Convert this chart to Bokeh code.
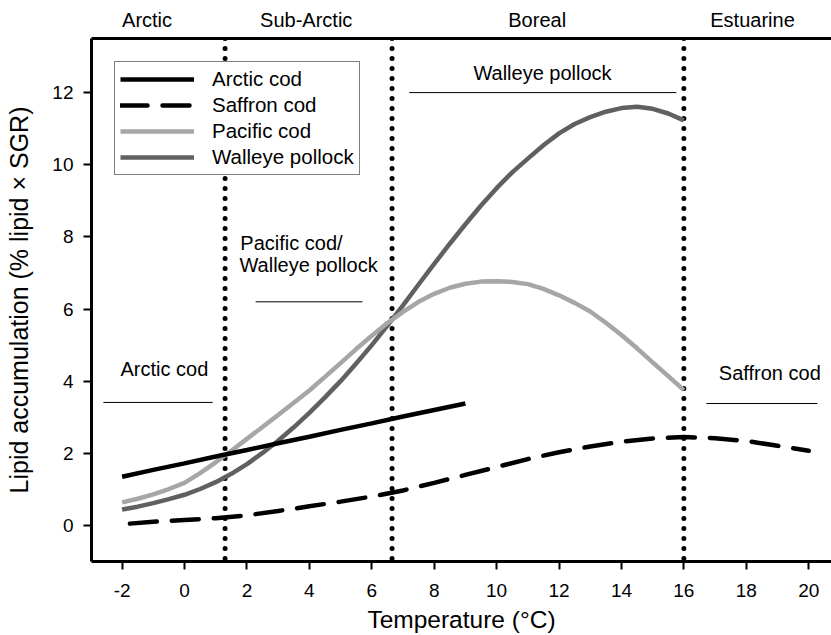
from bokeh.plotting import figure
from bokeh.models import Range1d, LinearAxis, FixedTicker, Legend, LegendItem
from bokeh.embed import file_html
from bokeh.resources import INLINE
from bokeh.core.properties import value

FONT = "Liberation Sans"

# ---------------- data ----------------
x_ticks = [-2, 0, 2, 4, 6, 8, 10, 12, 14, 16, 18, 20]
x_tick_labels = ["-2", "0", "2", "4", "6", "8", "10", "12", "14", "16", "18", "20"]
y_ticks = [0, 2, 4, 6, 8, 10, 12]
y_tick_labels = ["0", "2", "4", "6", "8", "10", "12"]

temp_arctic = [-2, -1, 0, 1, 2, 3, 4, 5, 6, 7, 8, 9]
lipid_arctic = [1.35, 1.54, 1.72, 1.91, 2.09, 2.28, 2.46, 2.65, 2.83, 3.02, 3.20, 3.38]

temp_saffron = [-1.75, -1, 0, 1, 2, 3, 4, 5, 6, 7, 8, 9, 10, 11, 12, 13, 14, 15, 16, 17, 18, 19, 20]
lipid_saffron = [0.05, 0.10, 0.15, 0.20, 0.28, 0.40, 0.53, 0.66, 0.80, 0.97, 1.18, 1.40,
                 1.62, 1.84, 2.03, 2.19, 2.32, 2.41, 2.45, 2.42, 2.34, 2.21, 2.07]

temp_pacific = [-2, -1.5, -1, -0.5, 0, 0.5, 1, 1.5, 2, 2.5, 3, 3.5, 4, 4.5, 5, 5.5, 6, 6.5,
                7, 7.5, 8, 8.5, 9, 9.5, 10, 10.5, 11, 11.5, 12, 12.5, 13, 13.5, 14, 14.5,
                15, 15.5, 16]
lipid_pacific = [0.64, 0.74, 0.86, 1.01, 1.18, 1.45, 1.75, 2.07, 2.40, 2.73, 3.06, 3.40,
                 3.74, 4.12, 4.50, 4.89, 5.26, 5.61, 5.92, 6.20, 6.42, 6.59, 6.70, 6.76,
                 6.77, 6.75, 6.69, 6.56, 6.38, 6.17, 5.93, 5.62, 5.28, 4.91, 4.52, 4.14, 3.75]

temp_walleye = [-2, -1.5, -1, -0.5, 0, 0.5, 1, 1.5, 2, 2.5, 3, 3.5, 4, 4.5, 5, 5.5, 6, 6.5,
                7, 7.5, 8, 8.5, 9, 9.5, 10, 10.5, 11, 11.5, 12, 12.5, 13, 13.5, 14, 14.5,
                15, 15.5, 16]
lipid_walleye = [0.44, 0.52, 0.62, 0.73, 0.85, 1.01, 1.20, 1.43, 1.70, 2.01, 2.35, 2.72,
                 3.12, 3.55, 4.00, 4.49, 5.00, 5.54, 6.10, 6.68, 7.25, 7.81, 8.35, 8.87,
                 9.35, 9.79, 10.17, 10.54, 10.87, 11.13, 11.32, 11.47, 11.57, 11.61,
                 11.55, 11.42, 11.23]

series_names = ["Arctic cod", "Saffron cod", "Pacific cod", "Walleye pollock"]

zone_bounds = [1.3, 6.65, 16]
zone_names = ["Arctic", "Sub-Arctic", "Boreal", "Estuarine"]
zone_label_x = [-1.2, 3.9, 11.3, 18.2]

# optimal-range annotations (label, bar)
ann_center_text = ["Walleye pollock"]
ann_center_x = [11.47]
ann_center_y = [12.54]
ann_left_text = ["Pacific cod/", "Walleye pollock", "Arctic cod", "Saffron cod"]
ann_left_x = [1.79, 1.76, -2.05, 17.12]
ann_left_y = [7.83, 7.22, 4.33, 4.22]
ann_bar_x0 = [7.2, 2.28, -2.6, 16.72]
ann_bar_x1 = [15.76, 5.7, 0.9, 20.28]
ann_bar_y = [12.0, 6.2, 3.41, 3.38]

# ---------------- figure ----------------
p = figure(width=831, height=635, output_backend="svg", toolbar_location=None,
           x_range=Range1d(-2.98, 20.73), y_range=Range1d(-1, 13.5),
           min_border_left=91, min_border_right=0, min_border_top=38, min_border_bottom=73)
p.outline_line_color = None
p.xgrid.grid_line_color = None
p.ygrid.grid_line_color = None
p.background_fill_color = "white"
p.border_fill_color = "white"

for ax in (p.xaxis[0], p.yaxis[0]):
    ax.axis_line_width = 3
    ax.axis_line_color = "black"
    ax.major_tick_line_width = 2
    ax.major_tick_line_color = "black"
    ax.major_tick_out = 8
    ax.major_tick_in = 0
    ax.minor_tick_line_color = None
    ax.major_label_text_font = FONT
    ax.major_label_text_font_size = "19px"
    ax.major_label_text_color = "black"
    ax.axis_label_text_font = FONT
    ax.axis_label_text_font_style = "normal"
    ax.axis_label_text_color = "black"

p.xaxis[0].ticker = FixedTicker(ticks=x_ticks)
p.xaxis[0].major_label_overrides = {float(t): s for t, s in zip(x_ticks, x_tick_labels)}
p.yaxis[0].ticker = FixedTicker(ticks=y_ticks)
p.yaxis[0].major_label_overrides = {float(t): s for t, s in zip(y_ticks, y_tick_labels)}
p.xaxis[0].axis_label = "Temperature (°C)"
p.yaxis[0].axis_label = "Lipid accumulation (% lipid × SGR)"
p.xaxis[0].axis_label_text_font_size = "24.5px"
p.yaxis[0].axis_label_text_font_size = "25px"
p.xaxis[0].major_label_standoff = 14
p.xaxis[0].axis_label_standoff = 6
p.yaxis[0].major_label_standoff = 10
p.yaxis[0].axis_label_standoff = 16

# top axis carrying the thermal-zone names
top = LinearAxis(ticker=FixedTicker(ticks=zone_label_x),
                 major_label_overrides={float(x): n for x, n in zip(zone_label_x, zone_names)},
                 major_tick_line_color=None, major_tick_out=0, major_tick_in=0,
                 minor_tick_line_color=None, axis_line_width=3, axis_line_color="black",
                 major_label_standoff=8, major_label_text_font=FONT,
                 major_label_text_font_size="20px", major_label_text_color="black")
p.add_layout(top, "above")

# zone boundaries (dotted)
y0 = p.y_range.start
y1 = p.y_range.end
p.segment(x0=zone_bounds, y0=[y1] * len(zone_bounds), x1=zone_bounds, y1=[y0] * len(zone_bounds),
          line_color="black", line_width=5, line_dash="0 10", line_cap="round")

# annotation bars and texts
p.segment(x0=ann_bar_x0, y0=ann_bar_y, x1=ann_bar_x1, y1=ann_bar_y, line_color="black", line_width=1)
p.text(x=ann_center_x, y=ann_center_y, text=ann_center_text, text_font=value(FONT),
       text_font_size="20px", text_align="center", text_baseline="alphabetic", text_color="black")
p.text(x=ann_left_x, y=ann_left_y, text=ann_left_text, text_font=value(FONT),
       text_font_size="20px", text_align="left", text_baseline="alphabetic", text_color="black")

# curves
r_walleye = p.line(temp_walleye, lipid_walleye, line_color="#606060", line_width=4.5)
r_pacific = p.line(temp_pacific, lipid_pacific, line_color="#a6a6a6", line_width=4.5)
r_saffron = p.line(temp_saffron, lipid_saffron, line_color="black", line_width=4.5,
                   line_dash="27 15", line_cap="round")
r_arctic = p.line(temp_arctic, lipid_arctic, line_color="black", line_width=4.5)

legend = Legend(items=[LegendItem(label=series_names[0], renderers=[r_arctic]),
                       LegendItem(label=series_names[1], renderers=[r_saffron]),
                       LegendItem(label=series_names[2], renderers=[r_pacific]),
                       LegendItem(label=series_names[3], renderers=[r_walleye])],
                location="top_left", margin=23, padding=5, spacing=2,
                label_height=20, glyph_height=20, glyph_width=74, label_standoff=18,
                border_line_color="black", border_line_width=1.5,
                label_text_font=FONT, label_text_font_size="20.5px", label_text_color="black",
                background_fill_alpha=1)
p.add_layout(legend)

open("out.html", "w").write(file_html(p, INLINE))
